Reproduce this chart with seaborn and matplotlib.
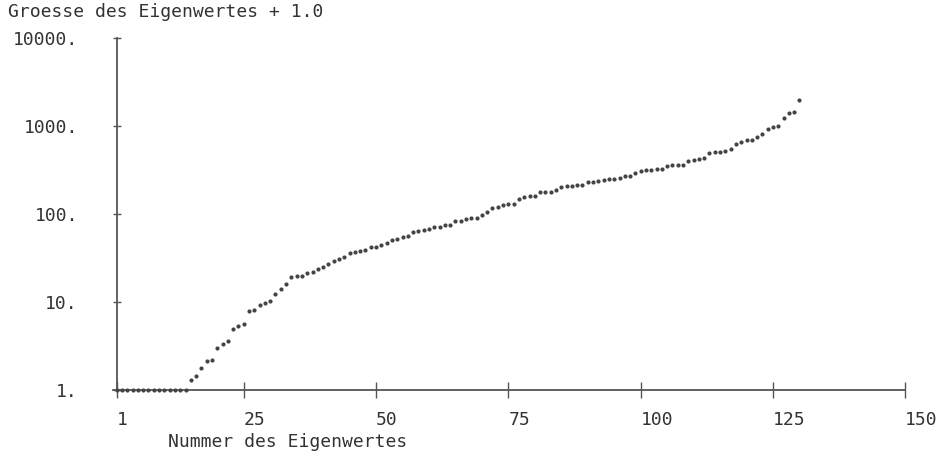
import numpy as np
import pandas as pd
import seaborn as sns
import matplotlib
matplotlib.use('Agg')
import matplotlib.pyplot as plt
from matplotlib.ticker import FixedLocator, FixedFormatter, NullLocator

sns.set_style('white')
plt.rcParams['font.family'] = ['DejaVu Sans Mono', 'DejaVu Sans']

# Eigenwerte (sortiert), Groesse + 1.0
nummer = list(range(1, 131))
groesse = [
    1.0, 1.0, 1.0, 1.0, 1.0, 1.0, 1.0, 1.0, 1.0, 1.0,
    1.0, 1.0, 1.0, 1.0, 1.29, 1.45, 1.78, 2.12, 2.18, 3.0,
    3.31, 3.63, 4.9, 5.38, 5.67, 7.96, 8.18, 9.17, 9.74, 10.2,
    12.4, 14.2, 16.1, 19.1, 19.7, 19.7, 21.5, 22.1, 23.9, 25.2,
    27.0, 29.2, 30.6, 32.7, 36.0, 37.3, 38.3, 39.3, 41.8, 42.0,
    44.5, 46.5, 50.7, 52.0, 54.4, 56.7, 62.9, 63.7, 65.3, 68.1,
    71.7, 71.7, 75.6, 75.6, 82.6, 84.0, 88.5, 90.8, 90.8, 97.4,
    103.6, 116, 121, 125, 130, 130, 149, 155, 161, 161,
    175, 175, 175, 189, 203, 206, 208, 212, 215, 227,
    231, 239, 245, 247, 251, 258, 272, 272, 292, 303,
    311, 316, 327, 327, 349, 357, 357, 363, 397, 411,
    425, 436, 494, 498, 502, 520, 552, 613, 658, 688,
    688, 736, 804, 916, 967, 1000, 1223, 1380, 1442, 1960,
]
x_ticks = [1, 25, 50, 75, 100, 125, 150]
y_ticks = [1, 10, 100, 1000, 10000]
y_labels = ['1.', '10.', '100.', '1000.', '10000.']

df = pd.DataFrame({'nummer': nummer, 'groesse': groesse})

txt = '#333333'
axc = '#555555'
fs = 13

fig = plt.figure(figsize=(9.51, 4.57), dpi=100)
ax = fig.add_axes([113 / 951, 67 / 457, 792.3 / 951, 352.3 / 457])

sns.scatterplot(data=df, x='nummer', y='groesse', ax=ax, s=9,
                color='#444444', linewidth=0, clip_on=False, zorder=3)

ax.set_yscale('log')
ax.set_xlim(0.3, 150)
ax.set_ylim(1, 10000)

ax.spines['top'].set_visible(False)
ax.spines['right'].set_visible(False)
ax.spines['left'].set_position(('data', 1))
for s in ['left', 'bottom']:
    ax.spines[s].set_color(axc)
    ax.spines[s].set_linewidth(1.3)

ax.xaxis.set_major_locator(FixedLocator(x_ticks))
ax.xaxis.set_major_formatter(FixedFormatter([str(v) for v in x_ticks]))
ax.yaxis.set_major_locator(FixedLocator(y_ticks))
ax.yaxis.set_major_formatter(FixedFormatter(y_labels))
ax.yaxis.set_minor_locator(NullLocator())
ax.xaxis.set_minor_locator(NullLocator())

ax.tick_params(axis='x', bottom=True, direction='inout', length=12, width=1.0,
               color=axc, pad=9, labelsize=fs, labelcolor=txt)
ax.tick_params(axis='y', left=True, direction='inout', length=6, width=1.0,
               color=axc, pad=25, labelsize=fs, labelcolor=txt)
plt.setp(ax.get_xticklabels(), ha='left')

ax.set_xlabel('')
ax.set_ylabel('')

fig.text(8 / 951, 1 - 12 / 457, 'Groesse des Eigenwertes + 1.0',
         ha='left', va='center', fontsize=fs, color=txt)
fig.text(168 / 951, 1 - 442 / 457, 'Nummer des Eigenwertes',
         ha='left', va='center', fontsize=fs, color=txt)

fig.savefig('out.png', dpi=100)
